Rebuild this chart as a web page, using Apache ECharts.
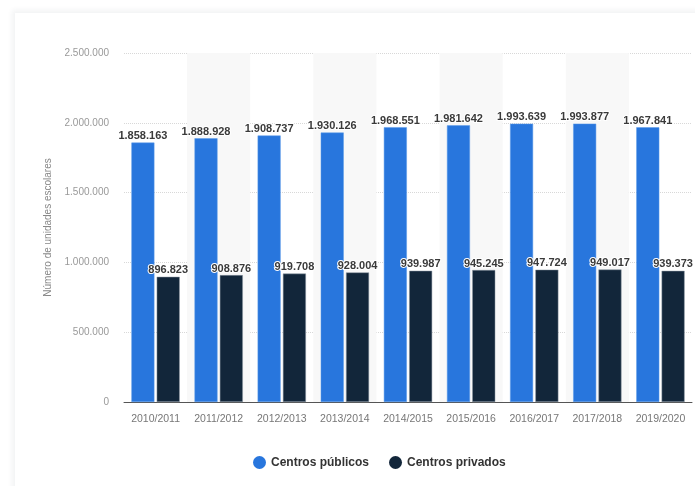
<!DOCTYPE html>
<html>
<head>
<meta charset="utf-8">
<script src="https://cdn.jsdelivr.net/npm/echarts@6/dist/echarts.min.js"></script>
<style>
  html, body { margin: 0; padding: 0; background: #ffffff; }
  #card { position: absolute; left: 15px; top: 13px; width: 700px; height: 520px;
          background: #fff; box-shadow: 0 0 5px 3px rgba(40,50,70,0.06); }
  #chart { position: absolute; left: 0; top: 0; width: 695px; height: 486px; }
</style>
</head>
<body>
<div id="card"></div>
<div id="chart"></div>
<script>
const categories = ['2010/2011','2011/2012','2012/2013','2013/2014','2014/2015','2015/2016','2016/2017','2017/2018','2019/2020'];
const publicos = [1858163, 1888928, 1908737, 1930126, 1968551, 1981642, 1993639, 1993877, 1967841];
const privados = [896823, 908876, 919708, 928004, 939987, 945245, 947724, 949017, 939373];
const yTicks = [0, 500000, 1000000, 1500000, 2000000, 2500000];
const seriesNames = ['Centros públicos', 'Centros privados'];

function fmt(v) {
  return String(Math.round(v)).replace(/\B(?=(\d{3})+(?!\d))/g, '.');
}

const chart = echarts.init(document.getElementById('chart'), null, { renderer: 'canvas' });
const labelCfg = {
  show: true,
  position: 'top',
  distance: 1,
  fontFamily: 'Liberation Sans, Arial, sans-serif',
  fontSize: 11,
  fontWeight: 'bold',
  color: '#3a3a3a',
  textBorderColor: '#ffffff',
  textBorderWidth: 2,
  formatter: p => fmt(p.value)
};
chart.setOption({
  animation: false,
  backgroundColor: 'transparent',
  grid: { left: 124, right: 3, top: 53, bottom: 84, containLabel: false },
  legend: {
    left: 248, top: 451,
    icon: 'circle', itemWidth: 13, itemHeight: 13, itemGap: 20,
    itemStyle: { borderWidth: 0 },
    textStyle: { fontFamily: 'Liberation Sans, Arial, sans-serif', fontSize: 12, fontWeight: 'bold', color: '#333' },
    data: seriesNames
  },
  xAxis: {
    type: 'category',
    data: categories,
    axisLine: { lineStyle: { color: '#555', width: 1 } },
    axisTick: { show: false, interval: 0 },
    axisLabel: { interval: 0, color: '#777', fontSize: 10.5, margin: 12, fontFamily: 'Liberation Sans, Arial, sans-serif' },
    splitArea: { show: true, interval: 0, areaStyle: { color: ['rgba(255,255,255,0)', '#f8f8f8'] } }
  },
  yAxis: {
    type: 'value',
    min: yTicks[0], max: yTicks[yTicks.length - 1], interval: 500000,
    name: 'Número de unidades escolares',
    nameLocation: 'middle', nameGap: 62, nameRotate: 90,
    nameTextStyle: { color: '#888', fontSize: 10, fontFamily: 'Liberation Sans, Arial, sans-serif' },
    axisLine: { show: false }, axisTick: { show: false },
    axisLabel: { color: '#999', fontSize: 10, margin: 15, fontFamily: 'Liberation Sans, Arial, sans-serif', formatter: v => fmt(v) },
    splitLine: { lineStyle: { color: '#d8d8d8', type: 'dotted', width: 1 } }
  },
  series: [
    {
      name: seriesNames[0], type: 'bar', data: publicos,
      barWidth: 23, barGap: '10%',
      itemStyle: { color: '#2876dd', borderColor: '#5a9ae8', borderWidth: 0.5 },
      label: labelCfg
    },
    {
      name: seriesNames[1], type: 'bar', data: privados,
      barWidth: 23,
      itemStyle: { color: '#12263a', borderColor: '#8a96a3', borderWidth: 0.5 },
      label: labelCfg
    }
  ]
});
</script>
</body>
</html>
